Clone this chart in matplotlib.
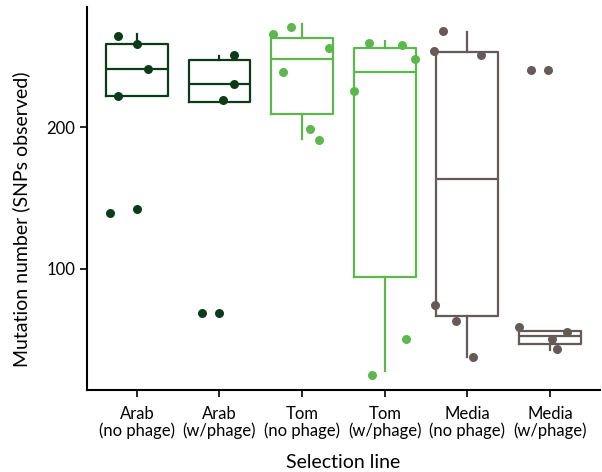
import matplotlib
matplotlib.use("Agg")
import matplotlib.pyplot as plt
import numpy as np

plt.rcParams['font.family'] = ['Lato', 'DejaVu Sans']

labels = ["Arab\n(no phage)", "Arab\n(w/phage)", "Tom\n(no phage)",
          "Tom\n(w/phage)", "Media\n(no phage)", "Media\n(w/phage)"]
colors = ["#0c3c17", "#0c3c17", "#5cb84c", "#5cb84c", "#645a58", "#645a58"]

# box stats: whislo, q1, med, q3, whishi
whislo = [221.6, 217.8, 191.3, 28.4, 38.2, 43.0]
q1 = [221.6, 217.8, 208.9, 94.4, 66.9, 47.0]
med = [240.8, 230.3, 247.7, 238.5, 163.4, 52.8]
q3 = [258.7, 247.2, 262.9, 255.8, 253.0, 56.5]
whishi = [265.5, 250.2, 272.3, 260.6, 266.7, 56.5]

# jittered points (x offset from group centre, value)
pts_dx = [
    [-0.23, 0.0, 0.14, -0.23, -0.33, 0.0],
    [0.18, 0.18, 0.04, -0.21, 0.0],
    [-0.35, -0.13, 0.33, -0.23, 0.10, 0.21],
    [-0.19, 0.21, 0.37, -0.37, 0.26, -0.15],
    [-0.30, -0.40, 0.16, -0.39, -0.14, 0.07],
    [-0.23, -0.02, -0.38, 0.21, 0.03, 0.08],
]
pts_y = [
    [264.1, 258.7, 240.8, 221.6, 139.6, 142.3],
    [250.5, 230.3, 219.0, 68.8, 68.8],
    [265.7, 270.2, 255.8, 238.5, 198.4, 191.1],
    [259.4, 258.0, 247.7, 225.1, 50.5, 25.6],
    [267.5, 253.3, 250.5, 74.4, 63.6, 37.8],
    [240.1, 240.1, 58.9, 55.8, 50.7, 43.4],
]

fig = plt.figure(figsize=(6.02, 4.72), dpi=100)
ax = fig.add_axes([0.145, 0.1727, 0.851, 0.8135])

for i in range(6):
    st = [dict(whislo=whislo[i], q1=q1[i], med=med[i], q3=q3[i], whishi=whishi[i], fliers=[])]
    c = colors[i]
    ax.bxp(st, positions=[i + 1], widths=0.75, showcaps=False, patch_artist=False,
           boxprops=dict(color=c, linewidth=1.6),
           medianprops=dict(color=c, linewidth=1.6),
           whiskerprops=dict(color=c, linewidth=1.6))
    xs = np.array(pts_dx[i]) + i + 1
    ax.scatter(xs, pts_y[i], s=42, color=c, zorder=3, linewidths=0)

ax.set_xlim(0.4, 6.6)
ax.set_ylim(14.4, 284.9)
ax.set_xticks(range(1, 7))
ax.set_xticklabels(labels, fontsize=12, linespacing=1.05)
ax.set_yticks([100, 200])
ax.tick_params(axis='both', labelsize=12, length=5, width=1.2, color='black')
ax.tick_params(axis='x', pad=6)
for s in ['top', 'right']:
    ax.spines[s].set_visible(False)
for s in ['left', 'bottom']:
    ax.spines[s].set_linewidth(1.5)
ax.set_xlabel("Selection line", fontsize=14, labelpad=11)
ax.set_ylabel("Mutation number (SNPs observed)", fontsize=14)
ax.yaxis.set_label_coords(-0.112, 0.447)

fig.savefig("out.png", dpi=100)
